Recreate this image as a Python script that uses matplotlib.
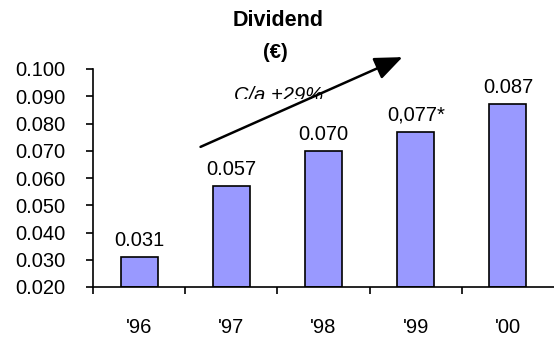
import matplotlib
matplotlib.use('Agg')
import matplotlib.pyplot as plt
from matplotlib.transforms import Bbox, TransformedBbox

plt.rcParams['font.family'] = ['Liberation Sans', 'DejaVu Sans']

years = ["'96", "'97", "'98", "'99", "'00"]
dividend = [0.031, 0.057, 0.070, 0.077, 0.087]
bar_labels = ['0.031', '0.057', '0.070', '0,077*', '0.087']
yticks = [0.020, 0.030, 0.040, 0.050, 0.060, 0.070, 0.080, 0.090, 0.100]

W, H = 554, 338
fs = 14.5
fig = plt.figure(figsize=(W / 100, H / 100), dpi=100, facecolor='white')
ax = fig.add_axes([93 / W, 1 - 287 / H, 1 - 93 / W, (287 - 69) / H])

x = range(len(years))
ax.bar(x, [v - 0.02 for v in dividend], bottom=0.02, width=0.4,
       color='#9999FF', edgecolor='black', linewidth=1.2, zorder=2)
for i, (v, lab) in enumerate(zip(dividend, bar_labels)):
    ax.annotate(lab, (i, v), xytext=(0, 8), textcoords='offset points',
                ha='center', va='baseline', fontsize=fs, annotation_clip=False)

ax.set_xlim(-0.5, len(years) - 0.5)
ax.set_ylim(0.02, 0.1)
ax.set_yticks(yticks)
ax.set_yticklabels(['%.3f' % t for t in yticks], fontsize=fs)
# ticks sit between categories, labels in the middle
ax.set_xticks([i - 0.5 for i in range(len(years))])
ax.set_xticklabels([])
ax.set_xticks(list(x), minor=True)
ax.set_xticklabels(years, minor=True, fontsize=fs)
ax.tick_params(axis='x', which='major', direction='out', length=5, width=1.2)
ax.tick_params(axis='x', which='minor', length=0, pad=22)
ax.tick_params(axis='y', direction='out', length=5, width=1.2, pad=15)
for s in ['top', 'right']:
    ax.spines[s].set_visible(False)
for s in ['left', 'bottom']:
    ax.spines[s].set_linewidth(1.2)

fig.text(278 / W, 1 - 21 / H, 'Dividend', ha='center', va='center',
         fontsize=15.5, fontweight='bold')
fig.text(275 / W, 1 - 52 / H, '(€)', ha='center', va='center',
         fontsize=fs, fontweight='bold')
ca = fig.text(279 / W, 1 - 101 / H, 'C/a +29%', ha='center', va='baseline',
              fontsize=fs, fontstyle='italic')
ca.set_clip_on(True)
ca.set_clip_box(TransformedBbox(Bbox([[0, 1 - 99 / H], [1, 1]]), fig.transFigure))

fig.add_artist(matplotlib.patches.FancyArrowPatch(
    (198 / W, 1 - 148 / H), (405 / W, 1 - 56 / H), transform=fig.transFigure,
    arrowstyle='-|>,head_length=0.85,head_width=0.35', mutation_scale=20,
    color='black', linewidth=1.8))

fig.savefig('out.png', dpi=100, facecolor='white')
